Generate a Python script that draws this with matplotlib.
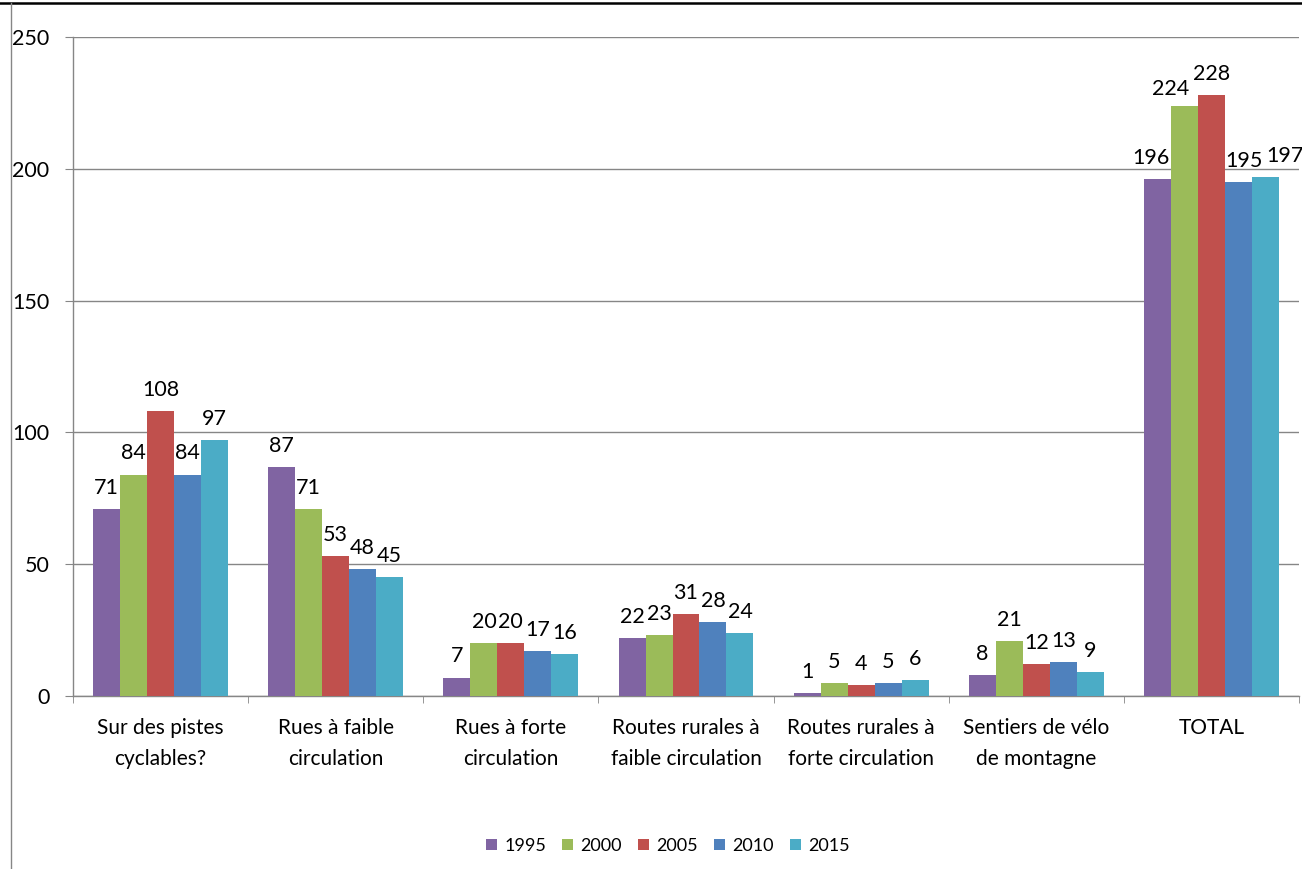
import matplotlib.pyplot as plt
import numpy as np
from matplotlib.lines import Line2D

categories = ["Sur des pistes\ncyclables?", "Rues à faible\ncirculation", "Rues à forte\ncirculation",
              "Routes rurales à\nfaible circulation", "Routes rurales à\nforte circulation",
              "Sentiers de vélo\nde montagne", "TOTAL"]
years = ["1995", "2000", "2005", "2010", "2015"]
v1995 = [71, 87, 7, 22, 1, 8, 196]
v2000 = [84, 71, 20, 23, 5, 21, 224]
v2005 = [108, 53, 20, 31, 4, 12, 228]
v2010 = [84, 48, 17, 28, 5, 13, 195]
v2015 = [97, 45, 16, 24, 6, 9, 197]
series = [v1995, v2000, v2005, v2010, v2015]
colors = ["#8064A2", "#9BBB59", "#C0504D", "#4F81BD", "#4BACC6"]

# hand-moved labels on the TOTAL group (points)
nudge = {(0, 6): (-5, 0), (1, 6): (-10, -3), (3, 6): (4, 0), (4, 6): (14, 0)}

plt.rcParams['font.family'] = ['Lato', 'DejaVu Sans']
axis_gray = "#868686"

fig = plt.figure(figsize=(13.02, 8.69), dpi=100)
ax = fig.add_axes([73 / 1302, 1 - 696 / 869, 1226 / 1302, 659 / 869])

x = np.arange(len(categories))
w = 0.154
for i, (vals, c, yr) in enumerate(zip(series, colors, years)):
    pos = x + (i - 2) * w
    ax.bar(pos, vals, w, color=c, label=yr, zorder=3)
    for j, (p, v) in enumerate(zip(pos, vals)):
        dx, dy = nudge.get((i, j), (0, 0))
        ax.annotate(str(v), (p, v), xytext=(dx, 8 + dy), textcoords="offset points",
                    ha="center", va="bottom", fontsize=15.5, color="#000000",
                    annotation_clip=False)

ax.set_xlim(-0.5, len(categories) - 0.5)
ax.set_ylim(0, 250)
ax.set_yticks([0, 50, 100, 150, 200, 250])
ax.yaxis.grid(True, color=axis_gray, linewidth=1, zorder=0)
ax.tick_params(axis="y", length=6, color=axis_gray, labelsize=15.5, pad=11)

ax.set_xticks(x)
ax.set_xticklabels(categories, fontsize=15, linespacing=1.7)
ax.set_xticks(np.arange(-0.5, len(categories)), minor=True)
ax.tick_params(axis="x", which="major", length=0, pad=16)
ax.tick_params(axis="x", which="minor", length=5, color=axis_gray)

for s in ["top", "right"]:
    ax.spines[s].set_visible(False)
for s in ["left", "bottom"]:
    ax.spines[s].set_color(axis_gray)
    ax.spines[s].set_linewidth(1)

fig.legend(loc="center", bbox_to_anchor=(668 / 1302, 1 - 846 / 869), ncol=5, frameon=False,
           fontsize=13, handlelength=0.6, handleheight=0.6, handletextpad=0.4,
           columnspacing=0.9)

# frame lines from the screenshot
fig.add_artist(Line2D([0, 1], [1 - 3 / 869, 1 - 3 / 869], color="black", linewidth=1.8,
                      transform=fig.transFigure))
fig.add_artist(Line2D([11 / 1302, 11 / 1302], [0, 1 - 3 / 869], color=axis_gray, linewidth=1,
                      transform=fig.transFigure))

fig.savefig("out.png", dpi=100)
